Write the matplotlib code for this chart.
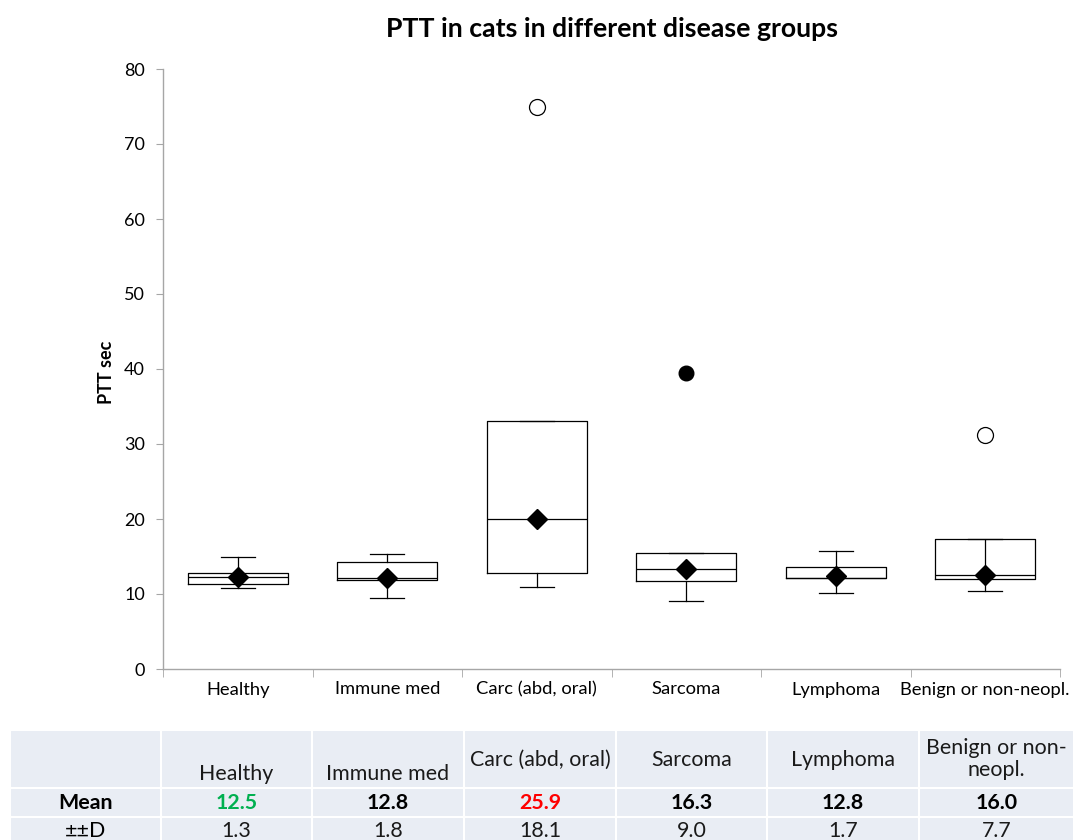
import matplotlib
matplotlib.use("Agg")
import matplotlib.pyplot as plt
from matplotlib.patches import Rectangle

plt.rcParams['font.family'] = ['Lato', 'DejaVu Sans']

# ---------------- data ----------------
categories = ["Healthy", "Immune med", "Carc (abd, oral)", "Sarcoma", "Lymphoma", "Benign or non-neopl."]
whis_low = [10.8, 9.5, 10.9, 9.1, 10.1, 10.4]
q1 = [11.3, 11.9, 12.8, 11.7, 12.1, 12.0]
median = [12.3, 12.1, 20.0, 13.3, 12.2, 12.6]
q3 = [12.8, 14.3, 33.1, 15.5, 13.6, 17.4]
whis_high = [15.0, 15.4, 33.1, 15.5, 15.8, 17.4]
mean_marker = [12.3, 12.2, 20.0, 13.4, 12.4, 12.6]
open_outlier_cat = [2, 5]
open_outlier_val = [75.0, 31.2]
filled_outlier_cat = [3]
filled_outlier_val = [39.5]
inner_line_cat = [5]          # stray whisker segment drawn inside the Benign box
yticks = [0, 10, 20, 30, 40, 50, 60, 70, 80]

table_headers = ["Healthy", "Immune med", "Carc (abd, oral)", "Sarcoma", "Lymphoma", "Benign or non-\nneopl."]
table_means = ["12.5", "12.8", "25.9", "16.3", "12.8", "16.0"]
table_sds = ["1.3", "1.8", "18.1", "9.0", "1.7", "7.7"]
mean_colors = ["#00B050", "black", "#FF0000", "black", "black", "black"]

# ---------------- figure ----------------
W, H = 1074, 840
fig = plt.figure(figsize=(W / 100, H / 100), dpi=100)
ax = fig.add_axes([163 / W, 1 - 669 / H, (1060 - 163) / W, (669 - 69) / H])

x = list(range(len(categories)))
stats = []
for i in x:
    stats.append(dict(med=median[i], q1=q1[i], q3=q3[i],
                      whislo=whis_low[i], whishi=whis_high[i], fliers=[]))
lw = 0.9
ax.bxp(stats, positions=x, widths=0.67, showfliers=False, patch_artist=False,
       boxprops=dict(color='black', linewidth=lw),
       medianprops=dict(color='black', linewidth=lw),
       whiskerprops=dict(color='black', linewidth=lw),
       capprops=dict(color='black', linewidth=lw), capwidths=0.23)
for i in inner_line_cat:
    ax.vlines(i, median[i], q3[i], color='black', linewidth=lw)

ax.plot(x, mean_marker, linestyle='none', marker='D', markersize=10,
        color='black', zorder=5)
ax.plot(open_outlier_cat, open_outlier_val, linestyle='none', marker='o',
        markersize=11.5, markerfacecolor='white', markeredgecolor='black',
        markeredgewidth=0.9, zorder=5)
ax.plot(filled_outlier_cat, filled_outlier_val, linestyle='none', marker='o',
        markersize=10.5, color='black', zorder=5)

ax.set_xlim(-0.5, len(categories) - 0.5)
ax.set_ylim(0, 80)
ax.set_yticks(yticks)
ax.set_xticks(x)
ax.set_xticklabels(categories, fontsize=13.2)
ax.set_xticks([i - 0.5 for i in range(len(categories) + 1)], minor=True)
ax.tick_params(axis='x', which='major', length=0, pad=9)
ax.tick_params(axis='x', which='minor', length=6, direction='out', color='#A6A6A6')
ax.tick_params(axis='y', length=5, color='#A6A6A6', labelsize=13, pad=8)
for s in ['top', 'right']:
    ax.spines[s].set_visible(False)
for s in ['left', 'bottom']:
    ax.spines[s].set_color('#A6A6A6')
    ax.spines[s].set_linewidth(1.0)

fig.text((163 + 1060) / 2 / W, 1 - 29 / H, "PTT in cats in different disease groups",
         ha='center', va='center', fontsize=19.2, fontweight='bold')
fig.text(107 / W, 1 - 372 / H, "PTT sec", rotation=90, ha='center', va='center',
         fontsize=13, fontweight='bold')

# ---------------- table ----------------
tax = fig.add_axes([0, 0, 1, 1], zorder=-1)
tax.set_xlim(0, W)
tax.set_ylim(H, 0)
tax.axis('off')
col_edges = [10, 161, 312, 464, 616, 767, 919, 1074]
row_edges = [730, 788, 817, 846]
cell_color = '#E9EDF4'
for r in range(len(row_edges) - 1):
    for c in range(len(col_edges) - 1):
        tax.add_patch(Rectangle((col_edges[c], row_edges[r]),
                                col_edges[c + 1] - col_edges[c],
                                row_edges[r + 1] - row_edges[r],
                                facecolor=cell_color, edgecolor='white', linewidth=1.5))
header_y = [774, 774, 760, 760, 760, 759]
tfs = 15.4
for c in range(len(categories)):
    cx = (col_edges[c + 1] + col_edges[c + 2]) / 2
    tax.text(cx, header_y[c], table_headers[c], ha='center', va='center',
             fontsize=tfs, color='#1a1a1a', linespacing=1.15)
    tax.text(cx, 803, table_means[c], ha='center', va='center', fontsize=tfs,
             fontweight='bold', color=mean_colors[c])
    tax.text(cx, 831, table_sds[c], ha='center', va='center', fontsize=tfs,
             color='#1a1a1a')
c0 = (col_edges[0] + col_edges[1]) / 2
tax.text(c0, 803, "Mean", ha='center', va='center', fontsize=tfs, fontweight='bold')
tax.text(c0, 831, "±±D", ha='center', va='center', fontsize=tfs)

fig.savefig("out.png", dpi=100)
